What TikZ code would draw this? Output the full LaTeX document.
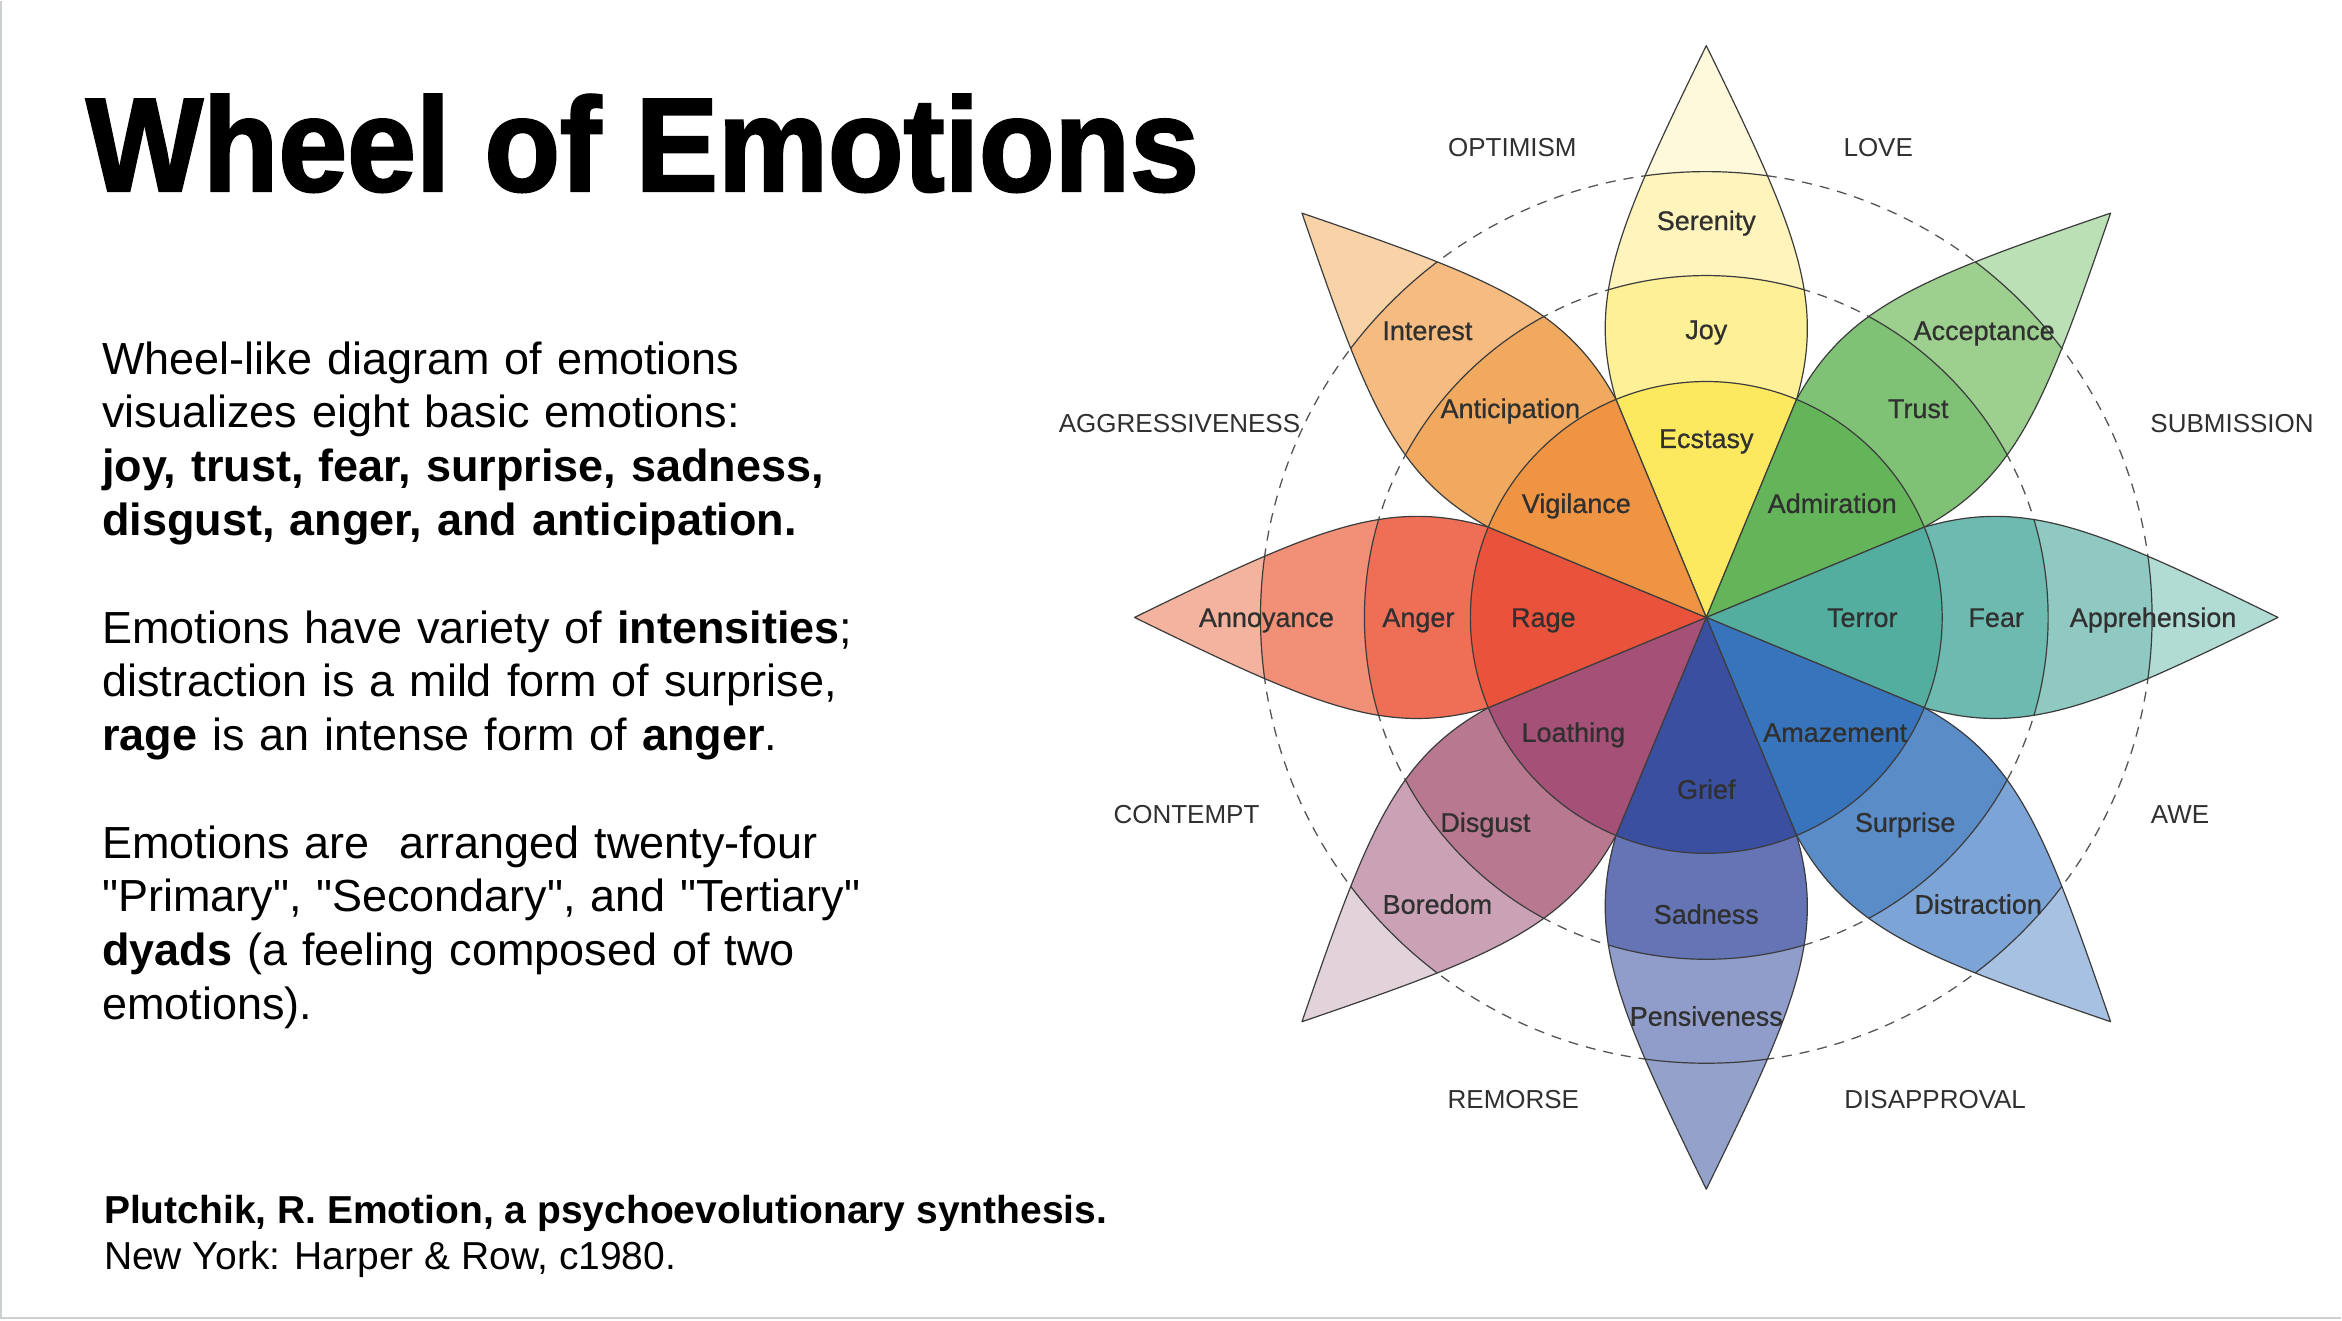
\documentclass[tikz,border=0pt]{standalone}
\usepackage{fontspec}
\setmainfont{Liberation Sans}[Ligatures=TeXOff]
\newfontfamily\headfont{Liberation Sans}[BoldFeatures={FakeBold=2}]
\newfontfamily\emofont{Liberation Sans}[FakeBold=0.7]
\usepackage{xcolor}
\usepackage{graphicx}
\usepackage{tikz}

\definecolor{labelgray}{HTML}{303030}
\definecolor{linegray}{HTML}{3C3C3C}
\definecolor{dashgray}{HTML}{555555}
\definecolor{slidegray}{HTML}{CDD0D0}
% petal colours: tip, mild, basic, intense
\definecolor{joyTip}{HTML}{FFF9DC}   \definecolor{joyMild}{HTML}{FEF4BC}
\definecolor{joyBasic}{HTML}{FEF097} \definecolor{joyInt}{HTML}{FCE95F}
\definecolor{trustTip}{HTML}{BBE0B5}   \definecolor{trustMild}{HTML}{9DCF8F}
\definecolor{trustBasic}{HTML}{80C275} \definecolor{trustInt}{HTML}{64B55A}
\definecolor{fearTip}{HTML}{B0DCD4}   \definecolor{fearMild}{HTML}{8FC9C1}
\definecolor{fearBasic}{HTML}{6DBBB0} \definecolor{fearInt}{HTML}{54AE9F}
\definecolor{surpTip}{HTML}{A7C1E3}   \definecolor{surpMild}{HTML}{7DA4D6}
\definecolor{surpBasic}{HTML}{5A8CC8} \definecolor{surpInt}{HTML}{3874BB}
\definecolor{sadTip}{HTML}{94A1CB}   \definecolor{sadMild}{HTML}{909DCA}
\definecolor{sadBasic}{HTML}{6474B4} \definecolor{sadInt}{HTML}{3A4FA0}
\definecolor{disgTip}{HTML}{E2D3DA}   \definecolor{disgMild}{HTML}{CBA2B5}
\definecolor{disgBasic}{HTML}{B87990} \definecolor{disgInt}{HTML}{A45077}
\definecolor{angTip}{HTML}{F4B39E}   \definecolor{angMild}{HTML}{F19077}
\definecolor{angBasic}{HTML}{EE6F56} \definecolor{angInt}{HTML}{E9523B}
\definecolor{antTip}{HTML}{F8D3A7}   \definecolor{antMild}{HTML}{F5BB80}
\definecolor{antBasic}{HTML}{F1A95F} \definecolor{antInt}{HTML}{EE9442}

\tikzset{
  headline/.style={font=\headfont\bfseries\fontsize{133}{140}\selectfont, inner sep=0pt},
  bodytext/.style={font=\fontsize{45}{53.8}\selectfont, text width=900pt, align=left, inner sep=0pt},
  refbold/.style={font=\bfseries\fontsize{39}{46}\selectfont, inner sep=0pt},
  refplain/.style={font=\fontsize{39}{46}\selectfont, inner sep=0pt},
  emo/.style={font=\emofont\fontsize{27}{30}\selectfont, text=labelgray, inner sep=0pt,
              text height=19pt, text depth=0pt},
  dyad/.style={font=\fontsize{26}{30}\selectfont, text=labelgray, inner sep=0pt,
               text height=19pt, text depth=0pt},
  petalline/.style={draw=linegray, line width=1.2pt},
  dyadring/.style={draw=dashgray, line width=1.3pt, dash pattern=on 10pt off 8pt},
  slideedge/.style={draw=slidegray, line width=2pt},
}

% one petal pointing up, turned by #1
\def\petalpath{(0,0) -- (112.5:236pt) .. controls (-120,320) and (-88,392) .. (0,572)
  .. controls (88,392) and (120,320) .. (67.5:236pt) -- cycle}
\newcommand{\emopetal}[5]{%
  \begin{scope}[rotate=#1-90]
    \fill[#2] \petalpath;
    \begin{scope}
      \clip \petalpath;
      \fill[#3] (0,0) circle (446pt);
      \fill[#4] (0,0) circle (342pt);
      \fill[#5] (0,0) circle (236pt);
      \draw[petalline] (0,0) circle (446pt) (0,0) circle (342pt) (0,0) circle (236pt);
    \end{scope}
    \draw[petalline, line join=round] \petalpath;
  \end{scope}}

\begin{document}
\begin{tikzpicture}[x=1pt, y=1pt]
  \fill[white] (0,0) rectangle (2342,1320);
  \draw[slideedge] (1,1320) -- (1,2) -- (2342,2);

  % left column
  \node[headline, anchor=base west] (heading) at (86,1130) {\scalebox{0.93}[1]{Wheel of Emotions}};
  \node[bodytext, anchor=base west] (summary) at (102,946.6) {%
    Wheel-like diagram of emotions\\
    visualizes eight basic emotions:\\
    {\bfseries joy, trust, fear, surprise, sadness,}\\
    {\bfseries disgust, anger, and anticipation.}\\[53.8pt]
    Emotions have variety of {\bfseries intensities};\\
    distraction is a mild form of surprise,\\
    {\bfseries rage} is an intense form of {\bfseries anger}.\\[53.8pt]
    Emotions are~~arranged twenty-four\\
    "Primary", "Secondary", and "Tertiary"\\
    {\bfseries dyads} (a feeling composed of two\\
    emotions).};
  \node[refbold, anchor=base west] (citation) at (104,97) {Plutchik, R. Emotion, a psychoevolutionary synthesis.};
  \node[refplain, anchor=base west] (pubinfo) at (104,51) {New York: Harper \& Row, c1980.};

  % the wheel
  \begin{scope}[shift={(1707,703.3)}]
    \draw[dyadring] (0,0) circle (342pt) (0,0) circle (446pt);
    \emopetal{90}{joyTip}{joyMild}{joyBasic}{joyInt}
    \emopetal{45}{trustTip}{trustMild}{trustBasic}{trustInt}
    \emopetal{0}{fearTip}{fearMild}{fearBasic}{fearInt}
    \emopetal{-45}{surpTip}{surpMild}{surpBasic}{surpInt}
    \emopetal{-90}{sadTip}{sadMild}{sadBasic}{sadInt}
    \emopetal{-135}{disgTip}{disgMild}{disgBasic}{disgInt}
    \emopetal{180}{angTip}{angMild}{angBasic}{angInt}
    \emopetal{135}{antTip}{antMild}{antBasic}{antInt}

    % intense
    \node[emo] (ecstasy) at (0,179) {Ecstasy};
    \node[emo] (admiration) at (126,114) {Admiration};
    \node[emo] (terror) at (156,0) {Terror};
    \node[emo] (amazement) at (129,-115) {Amazement};
    \node[emo] (grief) at (0,-172) {Grief};
    \node[emo] (loathing) at (-133,-115) {Loathing};
    \node[emo] (rage) at (-163,0) {Rage};
    \node[emo] (vigilance) at (-130,114) {Vigilance};
    % basic
    \node[emo] (joy) at (0,288) {Joy};
    \node[emo] (trust) at (212,209) {Trust};
    \node[emo] (fear) at (290,0) {Fear};
    \node[emo] (surprise) at (199,-205) {Surprise};
    \node[emo] (sadness) at (0,-297) {Sadness};
    \node[emo] (disgust) at (-221,-205) {Disgust};
    \node[emo] (anger) at (-288,0) {Anger};
    \node[emo] (anticipation) at (-196,209) {Anticipation};
    % mild
    \node[emo] (serenity) at (0,397) {Serenity};
    \node[emo] (acceptance) at (278,287) {Acceptance};
    \node[emo] (apprehension) at (447,0) {Apprehension};
    \node[emo] (distraction) at (272,-287) {Distraction};
    \node[emo] (pensiveness) at (0,-399) {Pensiveness};
    \node[emo] (boredom) at (-269,-287) {Boredom};
    \node[emo] (annoyance) at (-440,0) {Annoyance};
    \node[emo] (interest) at (-279,287) {Interest};

    % primary dyads
    \node[dyad] (optimism) at (-194,471) {OPTIMISM};
    \node[dyad] (love) at (172,471) {LOVE};
    \node[dyad] (submission) at (526,194) {SUBMISSION};
    \node[dyad] (awe) at (474,-197) {AWE};
    \node[dyad] (disapproval) at (229,-482) {DISAPPROVAL};
    \node[dyad] (remorse) at (-193,-482) {REMORSE};
    \node[dyad] (contempt) at (-520,-197) {CONTEMPT};
    \node[dyad] (aggressiveness) at (-527,194) {AGGRESSIVENESS};
  \end{scope}
\end{tikzpicture}
\end{document}
